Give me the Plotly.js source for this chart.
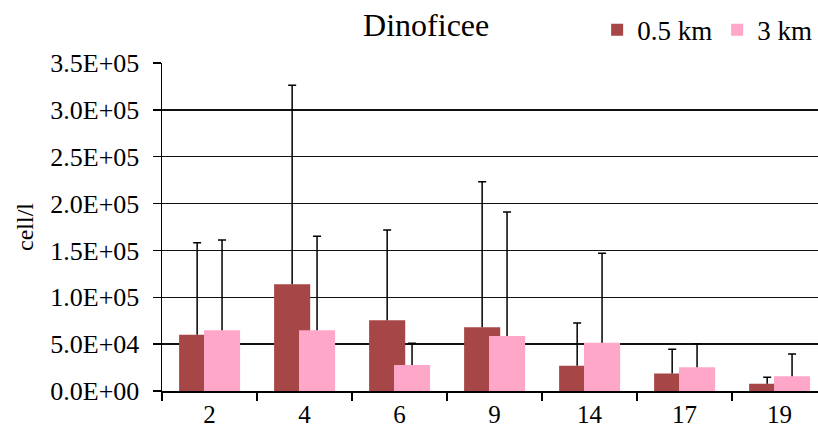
<!DOCTYPE html>
<html>
<head>
<meta charset="utf-8">
<script src="https://cdn.plot.ly/plotly-3.0.1.min.js"></script>
<style>html,body{margin:0;padding:0;background:#fff;}#chart{width:818px;height:432px;}</style>
</head>
<body>
<div id="chart"></div>
<script>
const categories = ["2", "4", "6", "9", "14", "17", "19"];
const values05km = [60000, 113800, 75400, 67900, 27000, 18800, 7800];
const errors05km = [98300, 212400, 96400, 155500, 45600, 25700, 6800];
const values3km = [64800, 64800, 27700, 58700, 51600, 25300, 15700];
const errors3km = [96300, 100300, 23200, 132300, 95300, 25200, 23800];
const yTickVals = [0, 50000, 100000, 150000, 200000, 250000, 300000, 350000];
const yTickLabels = ["0.0E+00", "5.0E+04", "1.0E+05", "1.5E+05", "2.0E+05", "2.5E+05", "3.0E+05", "3.5E+05"];

const font = '"Liberation Serif", "Times New Roman", serif';
const barW = 0.38;
const offs = [-0.32, -0.058];

function mainTrace(name, vals, errs, color, off) {
  return {
    type: 'bar', name: name, x: categories, y: vals,
    width: barW, offset: off,
    marker: {color: color, line: {width: 0}},
    error_y: {type: 'data', symmetric: false, array: errs,
      arrayminus: errs.map(() => 0), color: '#000', thickness: 1.5, width: 0}
  };
}
function capTrace(vals, errs, off) {
  return {
    type: 'bar', showlegend: false, hoverinfo: 'skip', x: categories,
    y: vals.map((v, i) => v + errs[i]),
    width: barW, offset: off,
    marker: {color: 'rgba(0,0,0,0)', line: {width: 0}},
    error_y: {type: 'data', symmetric: true, array: errs.map(() => 0),
      color: '#000', thickness: 1.5, width: 4}
  };
}

const traces = [
  mainTrace('0.5 km', values05km, errors05km, '#A64646', offs[0]),
  mainTrace('3 km', values3km, errors3km, '#FFA7C8', offs[1]),
  capTrace(values05km, errors05km, offs[0]),
  capTrace(values3km, errors3km, offs[1])
];

const layout = {
  width: 818, height: 432,
  margin: {l: 162, r: 0, t: 63, b: 41, autoexpand: false},
  paper_bgcolor: '#fff', plot_bgcolor: '#fff',
  barmode: 'overlay',
  font: {family: font, size: 26, color: '#000'},
  title: {text: 'Dinoficee', font: {family: font, size: 32, color: '#000'},
    x: 0.521, xanchor: 'center', y: 0.942, yanchor: 'middle'},
  showlegend: true,
  legend: {orientation: 'h', xref: 'container', yref: 'container',
    x: 0.73, xanchor: 'left', y: 0.93, yanchor: 'middle',
    font: {family: font, size: 27, color: '#000'}, itemwidth: 30,
    bgcolor: 'rgba(0,0,0,0)', traceorder: 'normal'},
  xaxis: {
    type: 'category', range: [-0.5, 6.405],
    tickson: 'boundaries', ticks: 'outside', ticklen: 8, tickwidth: 1.5, tickcolor: '#000',
    showline: true, linecolor: '#000', linewidth: 1.5,
    showgrid: false, zeroline: false,
    tickfont: {family: font, size: 25, color: '#000'},
    ticklabelstandoff: 0
  },
  yaxis: {
    range: [0, 350000],
    tickmode: 'array', tickvals: yTickVals, ticktext: yTickLabels,
    ticks: 'outside', ticklen: 8, tickwidth: 1.5, tickcolor: '#000',
    showline: true, linecolor: '#000', linewidth: 1.5,
    showgrid: true, gridcolor: '#111', gridwidth: 1.5, zeroline: false,
    tickfont: {family: font, size: 26, color: '#000'},
    ticklabelstandoff: 8,
    title: {text: 'cell/l', font: {family: font, size: 24, color: '#000'}, standoff: 10}
  }
};

Plotly.newPlot('chart', traces, layout, {displayModeBar: false, staticPlot: true});
</script>
</body>
</html>
